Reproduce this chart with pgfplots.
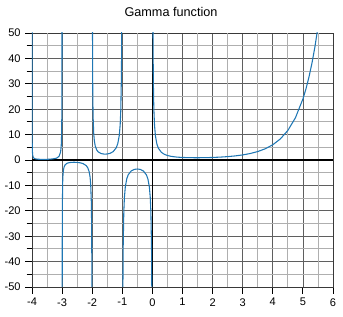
\documentclass[border=0pt]{standalone}
\usepackage{pgfplots}
\pgfplotsset{compat=1.18}
\usepackage{fontspec}
\setmainfont{Liberation Sans}
\definecolor{curve}{RGB}{31,119,180}
\definecolor{majgrid}{RGB}{95,95,95}
\definecolor{mingrid}{RGB}{175,175,175}
\begin{document}
\begin{tikzpicture}
\begin{axis}[
  at={(0pt,0pt)}, anchor=south west,
  width=225.75pt, height=190.5pt, scale only axis,
  xmin=-4, xmax=6, ymin=-50, ymax=50,
  xtick={-4,...,6}, ytick={-50,-40,...,50},
  minor y tick num=1,
  tick align=outside, xtick pos=bottom, ytick pos=left,
  major tick length=5pt, minor tick length=4pt,
  grid=both,
  major grid style={majgrid, line width=0.6pt},
  minor grid style={mingrid, line width=0.6pt},
  extra x ticks={-3.5,-2.5,-1.5,-0.5,0.5,1.5,2.5,3.5,4.5,5.5},
  extra x tick labels={},
  extra x tick style={grid=major, major grid style={mingrid, line width=0.6pt}, major tick length=0pt},
  axis line style={majgrid!60!black, line width=0.7pt},
  tick style={black, line width=0.7pt},
  ticklabel style={font=\fontsize{8.3}{10}\selectfont},
  /pgf/number format/assume math mode=true,
  axis on top=false,
  clip=true,
]
\draw[black, line width=0.8pt] (axis cs:0,-50) -- (axis cs:0,50);
\draw[black, line width=0.8pt] (axis cs:-4,0) -- (axis cs:6,0);
\addplot[curve, line width=0.8pt] coordinates {
(-3.9995,83.3)(-3.999,41.73)(-3.998,20.90)(-3.995,8.397)(-3.99,4.231)(-3.98,2.148)(-3.97,1.455)(-3.95,0.902)(-3.93,0.666)(-3.9,0.492)(-3.85,0.3605)(-3.8,0.2996)(-3.7,0.2516)(-3.6,0.2469)(-3.5,0.2701)(-3.4,0.3259)(-3.3,0.4385)(-3.2,0.6891)(-3.15,0.9523)(-3.1,1.492)(-3.05,3.142)(-3.03,5.357)(-3.02,8.131)(-3.01,16.46)(-3.005,33.13)(-3.003,55.35)
};
\addplot[curve, line width=0.8pt] coordinates {
(-2.997,-55.77)(-2.995,-33.55)(-2.99,-16.88)(-2.98,-8.550)(-2.97,-5.777)(-2.95,-3.563)(-2.93,-2.619)(-2.9,-1.918)(-2.85,-1.388)(-2.8,-1.1386)(-2.7,-0.9311)(-2.6,-0.8887)(-2.5,-0.9453)(-2.4,-1.108)(-2.3,-1.447)(-2.2,-2.205)(-2.15,-3.000)(-2.1,-4.626)(-2.07,-6.744)(-2.05,-9.584)(-2.03,-16.23)(-2.02,-24.56)(-2.015,-32.89)(-2.01,-49.55)(-2.005,-99)
};
\addplot[curve, line width=0.8pt] coordinates {
(-1.995,100)(-1.99,50.47)(-1.985,33.81)(-1.98,25.48)(-1.97,17.157)(-1.95,10.510)(-1.93,7.674)(-1.9,5.563)(-1.85,3.956)(-1.8,3.188)(-1.7,2.514)(-1.6,2.311)(-1.5,2.363)(-1.4,2.659)(-1.3,3.328)(-1.2,4.851)(-1.15,6.449)(-1.1,9.715)(-1.07,13.96)(-1.05,19.65)(-1.03,32.95)(-1.025,39.61)(-1.02,49.60)(-1.01,99.5)
};
\addplot[curve, line width=0.8pt] coordinates {
(-0.99,-100.4)(-0.98,-50.45)(-0.97,-33.80)(-0.95,-20.49)(-0.93,-14.81)(-0.9,-10.571)(-0.85,-7.318)(-0.8,-5.739)(-0.7,-4.274)(-0.6,-3.697)(-0.5,-3.5449)(-0.4,-3.723)(-0.3,-4.327)(-0.2,-5.821)(-0.15,-7.417)(-0.1,-10.686)(-0.07,-14.94)(-0.05,-20.63)(-0.03,-33.94)(-0.025,-40.60)(-0.02,-50.59)(-0.01,-100.6)
};
\addplot[curve, line width=0.8pt] coordinates {
(0.01,99.43)(0.02,49.44)(0.03,32.79)(0.04,24.46)(0.05,19.47)(0.07,13.77)(0.1,9.514)(0.15,6.220)(0.2,4.591)(0.3,2.992)(0.4,2.218)(0.5,1.7725)(0.6,1.4892)(0.7,1.2981)(0.8,1.1642)(0.9,1.0686)(1,1)(1.25,0.9064)(1.5,0.8862)(1.75,0.9191)(2,1)(2.25,1.1330)(2.5,1.3293)(2.75,1.6084)(3,2)(3.25,2.5493)(3.5,3.3234)(3.75,4.4230)(4,6)(4.25,8.285)(4.5,11.632)(4.75,16.586)(5,24)(5.1,27.93)(5.2,32.58)(5.3,38.08)(5.4,44.60)(5.5,52.34)(5.6,61.55)
};
\end{axis}
\node[font=\fontsize{9.5}{11}\selectfont] at (104.25pt,206.5pt) {Gamma function};
\pgfresetboundingbox
\path[use as bounding box] (-24pt,-22.5pt) rectangle (233.25pt,215.25pt);
\end{tikzpicture}
\end{document}
